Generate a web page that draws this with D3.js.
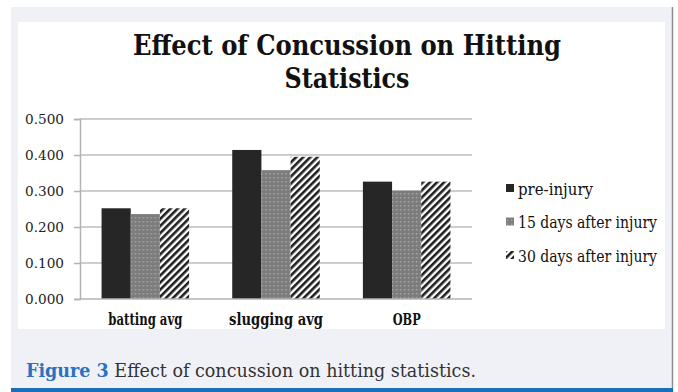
<!DOCTYPE html>
<html>
<head>
<meta charset="utf-8">
<script src="https://cdn.jsdelivr.net/npm/d3@7"></script>
<style>
  html, body { margin: 0; padding: 0; background: #ffffff; }
  svg { display: block; }
</style>
</head>
<body>
<svg id="chart" width="678" height="392"></svg>
<script>
// Batting statistics before and after a concussion
const categories = ["batting avg", "slugging avg", "OBP"];
const seriesNames = ["pre-injury", "15 days after injury", "30 days after injury"];
const preInjury = [0.252, 0.414, 0.326];
const after15 = [0.236, 0.358, 0.301];
const after30 = [0.252, 0.395, 0.326];
const yTicks = [0, 0.1, 0.2, 0.3, 0.4, 0.5];
const titleLines = ["Effect of Concussion on Hitting", "Statistics"];

const seriesValues = [preInjury, after15, after30];

const svg = d3.select("#chart");
const serif = "'DejaVu Serif Condensed', 'DejaVu Serif', serif";

// Pattern fills for the three series
const defs = svg.append("defs");
const dots = defs.append("pattern")
  .attr("id", "dots").attr("patternUnits", "userSpaceOnUse")
  .attr("width", 4).attr("height", 4);
dots.append("rect").attr("width", 4).attr("height", 4).attr("fill", "#7d7d7d");
dots.append("rect").attr("x", 1).attr("y", 1).attr("width", 1.4).attr("height", 1.4).attr("fill", "#a9a9a9");

const hatch = defs.append("pattern")
  .attr("id", "hatch").attr("patternUnits", "userSpaceOnUse")
  .attr("width", 5).attr("height", 5)
  .attr("patternTransform", "rotate(45)");
hatch.append("rect").attr("width", 5).attr("height", 5).attr("fill", "#ffffff");
hatch.append("rect").attr("width", 2.6).attr("height", 5).attr("fill", "#1e1e1e");

const fills = ["#262626", "url(#dots)", "url(#hatch)"];

// Page frame
svg.append("rect").attr("x", 11).attr("y", 7).attr("width", 661).attr("height", 385).attr("fill", "#f0f1f7");
svg.append("rect").attr("x", 18).attr("y", 22).attr("width", 647).attr("height", 307).attr("fill", "#ffffff");
svg.append("line").attr("x1", 672.5).attr("x2", 672.5).attr("y1", 7).attr("y2", 392)
  .attr("stroke", "#8f8f93").attr("stroke-width", 1.5);
svg.append("rect").attr("x", 11).attr("y", 388).attr("width", 662).attr("height", 4).attr("fill", "#1b6fb6");

// Title
const titleG = svg.append("g").attr("font-family", serif).attr("font-weight", "bold")
  .attr("fill", "#111").attr("text-anchor", "middle");
titleG.append("text").attr("x", 347).attr("y", 55).attr("font-size", 28)
  .attr("textLength", 428).attr("lengthAdjust", "spacingAndGlyphs").text(titleLines[0]);
titleG.append("text").attr("x", 347).attr("y", 88).attr("font-size", 28)
  .attr("textLength", 125).attr("lengthAdjust", "spacingAndGlyphs").text(titleLines[1]);

// Plot scales
const plot = { left: 80, right: 472, top: 119, bottom: 299 };
const x0 = d3.scaleBand().domain(categories).range([plot.left, plot.right]).paddingInner(0.33).paddingOuter(0.165);
const x1 = d3.scaleBand().domain(seriesNames).range([0, x0.bandwidth()]);
const y = d3.scaleLinear().domain([0, 0.5]).range([plot.bottom, plot.top]);

// Gridlines
svg.append("g").selectAll("line").data(yTicks.filter(d => d > 0)).join("line")
  .attr("x1", plot.left).attr("x2", plot.right)
  .attr("y1", d => y(d)).attr("y2", d => y(d))
  .attr("stroke", "#bdbdbd").attr("stroke-width", 1.5);

// Y axis
const yAxis = svg.append("g").attr("transform", `translate(${plot.left},0)`)
  .call(d3.axisLeft(y).tickValues(yTicks).tickFormat(d3.format(".3f")).tickSize(6).tickPadding(10));
yAxis.select(".domain").attr("stroke", "#b3b3b3").attr("stroke-width", 1.5);
yAxis.selectAll(".tick line").attr("stroke", "#b3b3b3").attr("stroke-width", 1.5);
yAxis.selectAll(".tick text").attr("font-family", serif).attr("font-size", 13.5).attr("fill", "#222")
  .attr("textLength", 39).attr("lengthAdjust", "spacingAndGlyphs");

// Bars
const groups = svg.append("g").selectAll("g").data(categories).join("g")
  .attr("transform", d => `translate(${x0(d)},0)`);
groups.selectAll("rect")
  .data((c, ci) => seriesNames.map((s, si) => ({ s, si, v: seriesValues[si][ci] })))
  .join("rect")
  .attr("x", d => x1(d.s))
  .attr("width", x1.bandwidth())
  .attr("y", d => y(d.v))
  .attr("height", d => y(0) - y(d.v))
  .attr("fill", d => fills[d.si]);

// X axis baseline
svg.append("line").attr("x1", plot.left).attr("x2", plot.right)
  .attr("y1", y(0)).attr("y2", y(0)).attr("stroke", "#b3b3b3").attr("stroke-width", 1.5);

// Category labels
const catWidths = [74, 94, 28];
svg.append("g").selectAll("text").data(categories).join("text")
  .attr("x", d => x0(d) + x0.bandwidth() / 2).attr("y", 325)
  .attr("text-anchor", "middle").attr("font-family", serif).attr("font-weight", "bold")
  .attr("font-size", 16).attr("fill", "#111")
  .attr("textLength", (d, i) => catWidths[i]).attr("lengthAdjust", "spacingAndGlyphs")
  .text(d => d);

// Legend
const legendWidths = [75, 139, 139];
const legend = svg.append("g").selectAll("g").data(seriesNames).join("g")
  .attr("transform", (d, i) => `translate(506,${189 + i * 33.5})`);
legend.append("rect").attr("x", 0).attr("y", -5).attr("width", 8).attr("height", 8)
  .attr("fill", (d, i) => fills[i]);
legend.append("text").attr("x", 12).attr("y", 5.5)
  .attr("font-family", serif).attr("font-size", 16).attr("fill", "#111")
  .attr("textLength", (d, i) => legendWidths[i]).attr("lengthAdjust", "spacingAndGlyphs")
  .text(d => d);

// Caption
const cap = svg.append("text").attr("x", 26).attr("y", 377)
  .attr("font-family", serif).attr("font-size", 18)
  .attr("textLength", 450).attr("lengthAdjust", "spacingAndGlyphs");
cap.append("tspan").attr("font-weight", "bold").attr("fill", "#2a72c0").text("Figure 3");
cap.append("tspan").attr("fill", "#333").text(" Effect of concussion on hitting statistics.");
</script>
</body>
</html>
